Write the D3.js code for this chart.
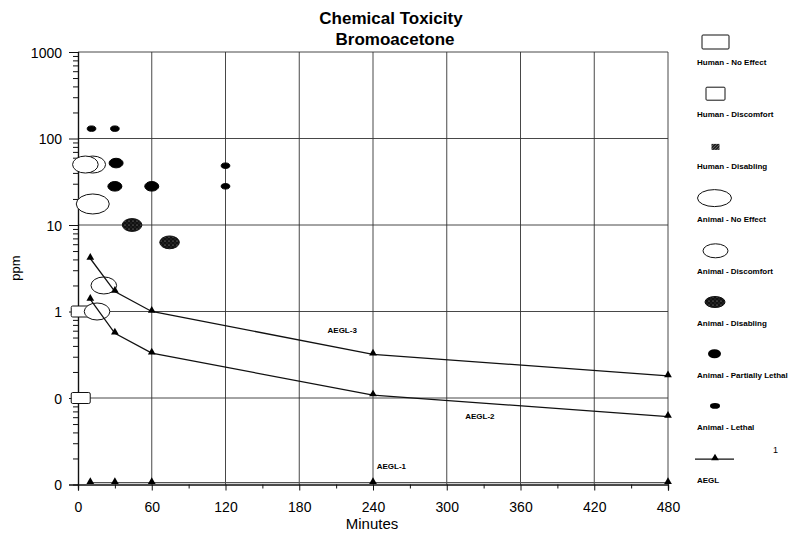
<!DOCTYPE html>
<html>
<head>
<meta charset="utf-8">
<script src="https://cdn.jsdelivr.net/npm/d3@7"></script>
<style>
  html, body { margin: 0; padding: 0; background: #fff; }
  svg { display: block; font-family: "Liberation Sans", Arial, sans-serif; }
</style>
</head>
<body>
<svg id="chart" width="789" height="533"></svg>
<script>
// ---- data ----
const titleLines = ["Chemical Toxicity", "Bromoacetone"];
const xTicks = [0, 60, 120, 180, 240, 300, 360, 420, 480];
const xMinorTicks = [30, 90, 150, 210, 270, 330, 390, 450];
const yTicks = [0.01, 0.1, 1, 10, 100, 1000];
const yTickLabels = ["0", "0", "1", "10", "100", "1000"];

const humanNoEffect = [{ t: 1, ppm: 0.1 }];
const humanDiscomfort = [{ t: 1, ppm: 1.0 }];
const humanDisabling = [];
const animalNoEffect = [{ t: 12, ppm: 17.5 }];
const animalDiscomfort = [
  { t: 12, ppm: 50 }, { t: 6, ppm: 50 },
  { t: 21, ppm: 2.0 }, { t: 15.5, ppm: 1.0 }
];
const animalDisabling = [{ t: 44, ppm: 10 }, { t: 74.5, ppm: 6.3 }];
const animalPartiallyLethal = [{ t: 31, ppm: 52 }, { t: 30, ppm: 28 }, { t: 60, ppm: 28 }];
const animalLethal = [{ t: 11, ppm: 130 }, { t: 30, ppm: 130 }, { t: 120, ppm: 48.5 }, { t: 120, ppm: 28 }];

const aeglTimes = [10, 30, 60, 240, 480];
const aegl3 = [4.1, 1.7, 1.0, 0.32, 0.18];
const aegl2 = [1.38, 0.56, 0.33, 0.108, 0.061];
const aegl1 = [0.0105, 0.0105, 0.0105, 0.0105, 0.0105];
const aeglNames = ["AEGL-3", "AEGL-2", "AEGL-1"];
const aeglLabelPos = [{ t: 203, ppm: 0.565 }, { t: 315, ppm: 0.057 }, { t: 243, ppm: 0.0152 }];

const legendNames = ["Human - No Effect", "Human - Discomfort", "Human - Disabling",
  "Animal - No Effect", "Animal - Discomfort", "Animal - Disabling",
  "Animal - Partially Lethal", "Animal - Lethal", "AEGL"];

// ---- setup ----
const svg = d3.select("#chart");
const x = d3.scaleLinear().domain([0, 480]).range([78, 668]);
const y = d3.scaleLog().domain([0.01, 1000]).range([484.5, 52]);

const defs = svg.append("defs");
const pat = defs.append("pattern").attr("id", "speck").attr("patternUnits", "userSpaceOnUse")
  .attr("width", 4).attr("height", 4);
pat.append("rect").attr("width", 4).attr("height", 4).attr("fill", "#111");
pat.append("circle").attr("cx", 1).attr("cy", 1).attr("r", 0.55).attr("fill", "#aaa");
pat.append("circle").attr("cx", 3).attr("cy", 3).attr("r", 0.45).attr("fill", "#777");
const pat2 = defs.append("pattern").attr("id", "hatch").attr("patternUnits", "userSpaceOnUse")
  .attr("width", 3).attr("height", 3);
pat2.append("rect").attr("width", 3).attr("height", 3).attr("fill", "#222");
pat2.append("path").attr("d", "M0,3 L3,0").attr("stroke", "#999").attr("stroke-width", 0.5);

// ---- title ----
svg.append("text").attr("x", 391).attr("y", 24).attr("text-anchor", "middle")
  .attr("font-size", 17).attr("font-weight", "bold").text(titleLines[0]);
svg.append("text").attr("x", 395).attr("y", 45).attr("text-anchor", "middle")
  .attr("font-size", 17).attr("font-weight", "bold").text(titleLines[1]);

// ---- grid ----
const grid = svg.append("g").attr("stroke", "#333").attr("stroke-width", 0.9);
grid.selectAll("line.v").data(xTicks.slice(1)).join("line").attr("class", "v")
  .attr("x1", d => x(d)).attr("x2", d => x(d)).attr("y1", y(1000)).attr("y2", y(0.01));
grid.selectAll("line.h").data(yTicks.slice(1)).join("line").attr("class", "h")
  .attr("x1", x(0)).attr("x2", x(480)).attr("y1", d => y(d)).attr("y2", d => y(d));

// ---- axes ----
const yMinor = [];
[0.01, 0.1, 1, 10, 100].forEach(dec => { for (let k = 2; k <= 9; k++) yMinor.push(dec * k); });

const yAxis = svg.append("g").attr("transform", `translate(${x(0)},0)`)
  .call(d3.axisLeft(y).tickValues(yTicks).tickFormat((d, i) => yTickLabels[i]).tickSize(9).tickPadding(7));
const yAxisMinor = svg.append("g").attr("transform", `translate(${x(0)},0)`)
  .call(d3.axisLeft(y).tickValues(yMinor).tickFormat("").tickSize(5));
const xAxis = svg.append("g").attr("transform", `translate(0,${y(0.01)})`)
  .call(d3.axisBottom(x).tickValues(xTicks).tickFormat(d3.format("d")).tickSize(6).tickPadding(12));
const xAxisMinor = svg.append("g").attr("transform", `translate(0,${y(0.01)})`)
  .call(d3.axisBottom(x).tickValues(xMinorTicks).tickFormat("").tickSize(4));

[yAxis, yAxisMinor, xAxis, xAxisMinor].forEach(g => {
  g.selectAll(".domain").attr("stroke", "#111").attr("stroke-width", 1.2);
  g.selectAll(".tick line").attr("stroke", "#111").attr("stroke-width", 1);
  g.selectAll("text").attr("font-size", 14).attr("fill", "#000")
    .attr("font-family", "Liberation Sans, Arial, sans-serif");
});
yAxis.selectAll("text").attr("dy", "0.36em");

svg.append("text").attr("transform", "translate(20,268) rotate(-90)").attr("text-anchor", "middle")
  .attr("font-size", 13).text("ppm");
svg.append("text").attr("x", 372).attr("y", 529).attr("text-anchor", "middle")
  .attr("font-size", 15).text("Minutes");

// ---- data marks ----
const marks = svg.append("g");
function rects(data, w, h, fill) {
  marks.append("g").selectAll("rect").data(data).join("rect")
    .attr("x", d => x(d.t) - w / 2 + 1.5).attr("y", d => y(d.ppm) - h / 2)
    .attr("width", w).attr("height", h).attr("rx", 1.5)
    .attr("fill", fill).attr("stroke", "#111").attr("stroke-width", 1);
}
function ellipses(data, rx, ry, fill, stroke) {
  marks.append("g").selectAll("ellipse").data(data).join("ellipse")
    .attr("cx", d => x(d.t)).attr("cy", d => y(d.ppm)).attr("rx", rx).attr("ry", ry)
    .attr("fill", fill).attr("stroke", stroke).attr("stroke-width", 1);
}
rects(humanNoEffect, 19, 11, "#fff");
rects(humanDiscomfort, 19, 11, "#fff");
rects(humanDisabling, 7, 5, "url(#hatch)");
ellipses(animalNoEffect, 16.5, 10, "#fff", "#111");
ellipses(animalDiscomfort, 12.8, 8.5, "#fff", "#111");
ellipses(animalDisabling, 9.8, 6.4, "url(#speck)", "#111");
ellipses(animalPartiallyLethal, 7, 4.8, "#000", "#000");
ellipses(animalLethal, 4.3, 2.7, "#000", "#000");

// ---- AEGL lines ----
const aeglSeries = [aegl3, aegl2, aegl1];
const line = d3.line().x(d => x(d.t)).y(d => y(d.ppm));
const tri = d3.symbol().type(d3.symbolTriangle).size(26);
aeglSeries.forEach((vals, i) => {
  const pts = aeglTimes.map((t, j) => ({ t, ppm: vals[j] }));
  const g = svg.append("g");
  g.append("path").datum(pts).attr("d", line).attr("fill", "none")
    .attr("stroke", i === 2 ? "#555" : "#111").attr("stroke-width", 1.3);
  g.selectAll("path.m").data(pts).join("path").attr("class", "m")
    .attr("transform", d => `translate(${x(d.t)},${y(d.ppm) - 1})`).attr("d", tri).attr("fill", "#000");
  g.append("text").attr("x", x(aeglLabelPos[i].t)).attr("y", y(aeglLabelPos[i].ppm))
    .attr("font-size", 8).attr("font-weight", "bold").text(aeglNames[i]);
});

// ---- legend ----
const lg = svg.append("g");
const lgX = 697, lgY0 = 65, lgStep = 52.2;
legendNames.forEach((name, i) => {
  const ty = lgY0 + i * lgStep;
  lg.append("text").attr("x", lgX).attr("y", ty).attr("font-size", 8).attr("font-weight", "bold").text(name);
});
const sy = i => lgY0 + i * lgStep;
lg.append("rect").attr("x", 702).attr("y", sy(0) - 30).attr("width", 27).attr("height", 14).attr("rx", 1)
  .attr("fill", "#fff").attr("stroke", "#111");
lg.append("rect").attr("x", 706).attr("y", sy(1) - 30).attr("width", 19).attr("height", 13).attr("rx", 1)
  .attr("fill", "#fff").attr("stroke", "#111");
lg.append("rect").attr("x", 711.5).attr("y", sy(2) - 25.5).attr("width", 8).attr("height", 6)
  .attr("fill", "url(#hatch)");
lg.append("ellipse").attr("cx", 714.5).attr("cy", sy(3) - 23.5).attr("rx", 17).attr("ry", 8.5)
  .attr("fill", "#fff").attr("stroke", "#111");
lg.append("ellipse").attr("cx", 715.5).attr("cy", sy(4) - 23).attr("rx", 12.5).attr("ry", 7)
  .attr("fill", "#fff").attr("stroke", "#111");
lg.append("ellipse").attr("cx", 715).attr("cy", sy(5) - 24).attr("rx", 10).attr("ry", 5.5)
  .attr("fill", "url(#speck)").attr("stroke", "#111");
lg.append("ellipse").attr("cx", 714.5).attr("cy", sy(6) - 24.5).attr("rx", 6.5).attr("ry", 4.5)
  .attr("fill", "#000");
lg.append("ellipse").attr("cx", 715).attr("cy", sy(7) - 24.5).attr("rx", 5).attr("ry", 2.8)
  .attr("fill", "#000");
lg.append("line").attr("x1", 695).attr("x2", 734).attr("y1", sy(8) - 23.5).attr("y2", sy(8) - 23.5)
  .attr("stroke", "#111").attr("stroke-width", 1.2);
lg.append("path").attr("transform", `translate(715,${sy(8) - 24.5})`).attr("d", tri).attr("fill", "#000");
lg.append("text").attr("x", 773).attr("y", 453).attr("font-size", 9).text("1");
</script>
</body>
</html>
